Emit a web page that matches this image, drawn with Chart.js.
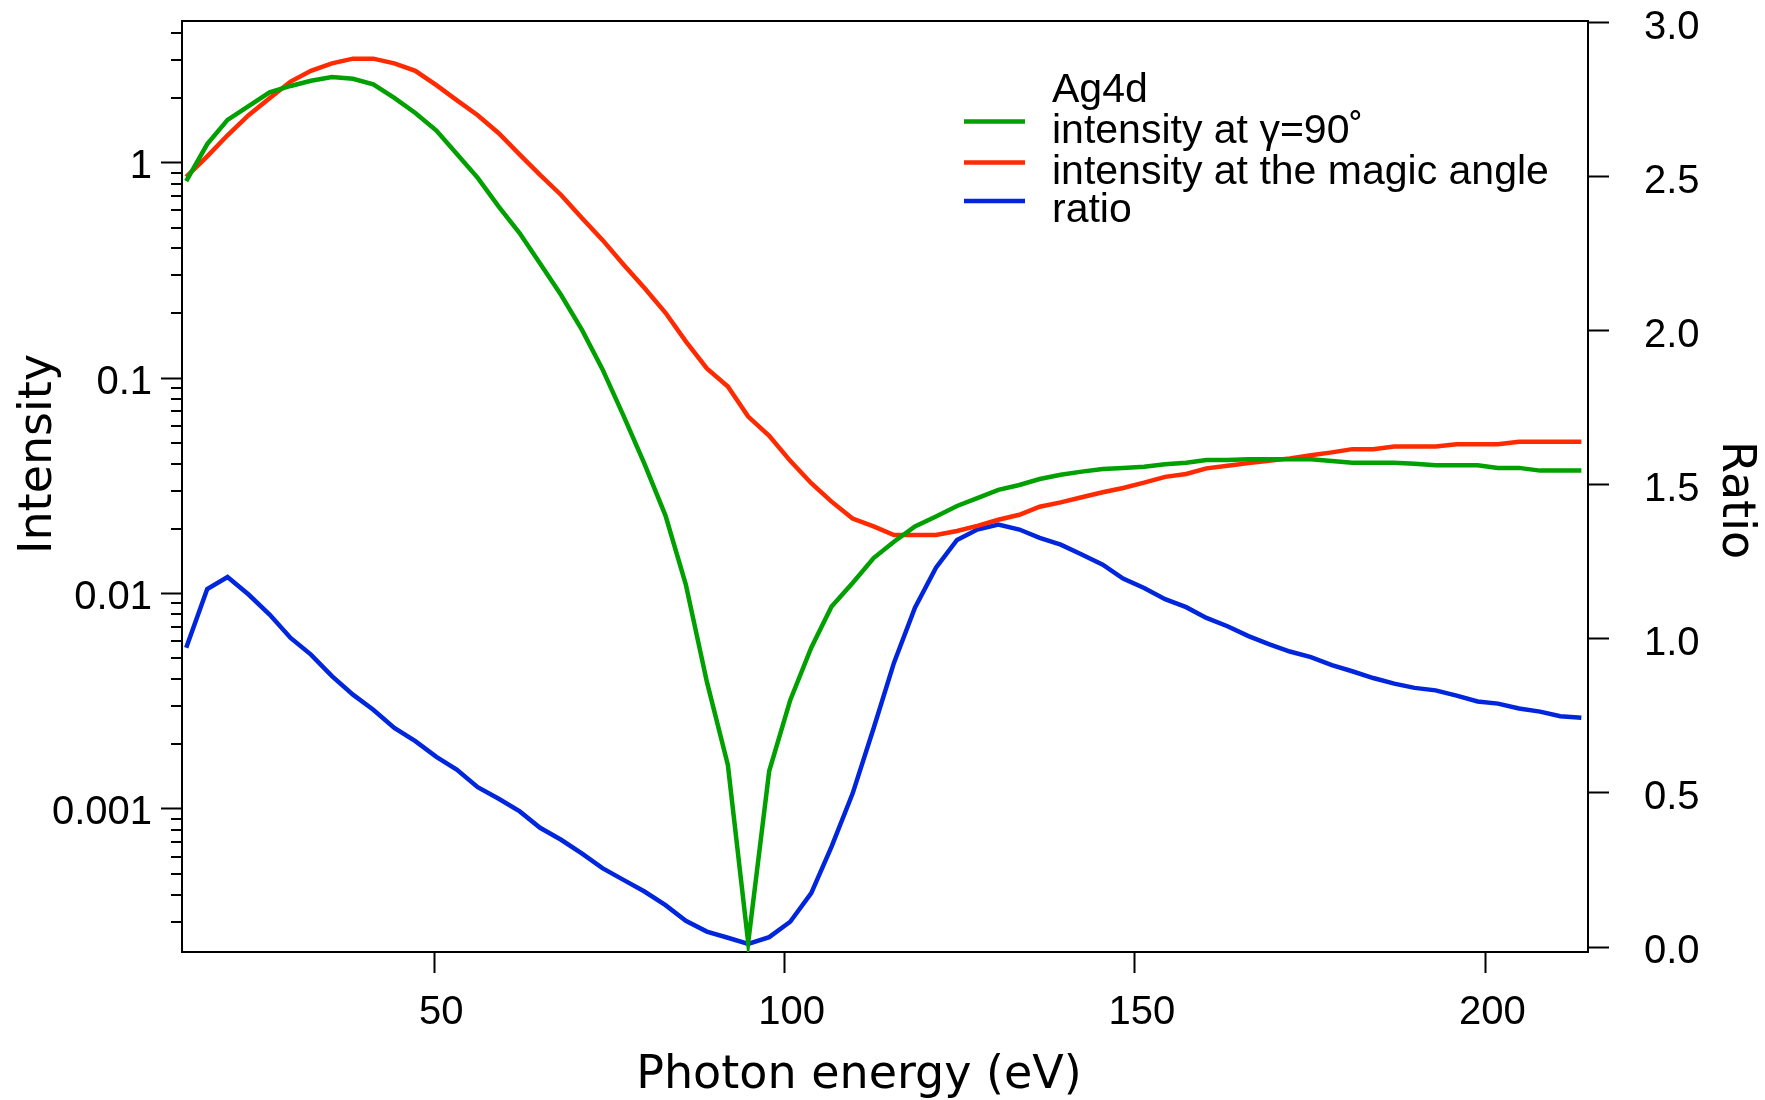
<!DOCTYPE html>
<html>
<head>
<meta charset="utf-8">
<script src="https://cdn.jsdelivr.net/npm/chart.js@4.4.1/dist/chart.umd.min.js"></script>
<style>
  html, body { margin: 0; padding: 0; background: #ffffff; }
  #wrap { width: 1765px; height: 1100px; position: relative; }
  canvas { display: block; }
</style>
</head>
<body>
<div id="wrap"><canvas id="c" width="1765" height="1100"></canvas></div>
<script>
// ---------------- data ----------------
const energy = [14.6,17.6,20.5,23.5,26.5,29.5,32.4,35.4,38.4,41.3,44.3,47.3,50.3,53.2,56.2,59.2,62.2,65.1,68.1,71.1,
  74.0,77.0,80.0,83.0,85.9,88.9,91.9,94.8,97.8,100.8,103.8,106.7,109.7,112.7,115.6,118.6,121.6,124.6,127.5,130.5,
  133.5,136.4,139.4,142.4,145.4,148.3,151.3,154.3,157.3,160.2,163.2,166.2,169.1,172.1,175.1,178.1,181.0,184.0,187.0,189.9,
  192.9,195.9,198.9,201.8,204.8,207.8,210.7,213.7];

const intensity90 = [0.82,1.22,1.58,1.83,2.12,2.27,2.40,2.50,2.45,2.31,
  2.00,1.70,1.41,1.10,0.85,0.625,0.47,0.34,0.243,0.167,
  0.11,0.067,0.040,0.023,0.011,0.0039,0.0016,0.00024,0.0015,0.0032,
  0.0056,0.0087,0.0112,0.0146,0.0174,0.0205,0.0228,0.0255,0.0277,0.0303,
  0.0319,0.0340,0.0356,0.0368,0.0378,0.0383,0.0388,0.0398,0.0405,0.0417,
  0.0417,0.0420,0.0420,0.0420,0.0420,0.0412,0.0405,0.0405,0.0405,0.0400,
  0.0394,0.0394,0.0394,0.0383,0.0383,0.0372,0.0372,0.0372];

const intensityMagic = [0.86,1.07,1.34,1.66,1.99,2.38,2.67,2.89,3.04,3.04,
  2.89,2.67,2.29,1.95,1.66,1.37,1.09,0.877,0.708,0.552,
  0.438,0.337,0.262,0.201,0.148,0.111,0.0914,0.0663,0.054,0.0413,
  0.0325,0.0267,0.0223,0.0205,0.0187,0.0187,0.0187,0.0195,0.0206,0.0220,
  0.0232,0.0253,0.0265,0.0280,0.0295,0.0309,0.0327,0.0348,0.0359,0.0381,
  0.0392,0.0403,0.0413,0.0424,0.0438,0.0452,0.0468,0.0468,0.0481,0.0481,
  0.0481,0.0493,0.0493,0.0493,0.0507,0.0507,0.0507,0.0507];

const ratio = [0.971,1.162,1.201,1.144,1.079,1.003,0.949,0.879,0.819,0.770,
  0.711,0.668,0.617,0.576,0.519,0.481,0.440,0.387,0.348,0.303,
  0.256,0.218,0.180,0.136,0.085,0.050,0.030,0.010,0.032,0.082,
  0.175,0.326,0.498,0.71,0.922,1.101,1.231,1.321,1.355,1.371,
  1.355,1.328,1.306,1.274,1.241,1.196,1.165,1.129,1.103,1.068,
  1.041,1.009,0.983,0.959,0.941,0.915,0.895,0.873,0.855,0.841,
  0.833,0.816,0.797,0.790,0.774,0.764,0.749,0.744];

const xTickValues = [50, 100, 150, 200];
const leftTickValues = [0.001, 0.01, 0.1, 1];
const leftTickLabels = ['0.001', '0.01', '0.1', '1'];
const rightTickValues = [0.0, 0.5, 1.0, 1.5, 2.0, 2.5, 3.0];
const seriesLabels = ['intensity at \u03B3=90\u02DA', 'intensity at the magic angle', 'ratio'];
const legendTitle = 'Ag4d';
const xTitle = 'Photon energy (eV)';
const yTitle = 'Intensity';
const y1Title = 'Ratio';

// ---------------- helpers ----------------
const toPoints = (ys) => energy.map((e, i) => ({ x: e, y: ys[i] }));
const TICK_FONT = { family: 'Liberation Sans', size: 40 };

const framePlugin = {
  id: 'frameAndMinor',
  afterDraw(chart) {
    const ctx = chart.ctx;
    const s = chart.scales.y;
    const a = chart.chartArea;
    ctx.save();
    ctx.strokeStyle = '#000';
    ctx.lineWidth = 2;
    for (let k = -5; k <= 1; k++) {
      for (let m = 2; m <= 9; m++) {
        const v = m * Math.pow(10, k);
        if (v < s.min || v > s.max) continue;
        const y = Math.round(s.getPixelForValue(v));
        ctx.beginPath();
        ctx.moveTo(s.right - 11, y);
        ctx.lineTo(s.right, y);
        ctx.stroke();
      }
    }
    ctx.beginPath();
    ctx.moveTo(a.left - 1, a.top);
    ctx.lineTo(a.right + 1, a.top);
    ctx.stroke();
    ctx.restore();
  }
};

const legendPlugin = {
  id: 'insideLegend',
  afterDraw(chart, args, o) {
    const ctx = chart.ctx;
    ctx.save();
    ctx.font = o.font;
    ctx.fillStyle = '#000';
    ctx.textAlign = 'left';
    ctx.textBaseline = 'alphabetic';
    ctx.fillText(o.title, o.textX, o.baselines[0]);
    chart.data.datasets.forEach((ds, i) => {
      const b = o.baselines[i + 1];
      ctx.strokeStyle = ds.borderColor;
      ctx.lineWidth = ds.borderWidth;
      ctx.beginPath();
      ctx.moveTo(o.lineX0, b - o.lineRaise);
      ctx.lineTo(o.lineX1, b - o.lineRaise);
      ctx.stroke();
      ctx.fillText(ds.label, o.textX, b);
    });
    ctx.restore();
  }
};

const titlesPlugin = {
  id: 'axisTitles',
  afterDraw(chart, args, o) {
    const ctx = chart.ctx;
    const sc = chart.options.scales;
    ctx.save();
    ctx.fillStyle = '#000';
    ctx.font = o.font;
    ctx.textAlign = 'center';
    ctx.textBaseline = 'alphabetic';
    ctx.fillText(sc.x.title.text, o.x[0], o.x[1]);
    ctx.save();
    ctx.translate(o.y[0], o.y[1]);
    ctx.rotate(-Math.PI / 2);
    ctx.fillText(sc.y.title.text, 0, 0);
    ctx.restore();
    ctx.save();
    ctx.translate(o.y1[0], o.y1[1]);
    ctx.rotate(Math.PI / 2);
    ctx.fillText(sc.y1.title.text, 0, 0);
    ctx.restore();
    ctx.restore();
  }
};

const noPad = (s) => { s.paddingTop = 0; s.paddingBottom = 0; s.paddingLeft = 0; s.paddingRight = 0; };
const gridOpts = { display: true, drawOnChartArea: false, drawTicks: true, tickLength: 21, tickWidth: 2, tickColor: '#000' };
const borderOpts = { display: true, color: '#000', width: 2 };

new Chart(document.getElementById('c'), {
  type: 'line',
  data: {
    datasets: [
      { label: seriesLabels[0], data: toPoints(intensity90), yAxisID: 'y', borderColor: '#00a000', borderWidth: 4.5 },
      { label: seriesLabels[1], data: toPoints(intensityMagic), yAxisID: 'y', borderColor: '#ff2a00', borderWidth: 4.5 },
      { label: seriesLabels[2], data: toPoints(ratio), yAxisID: 'y1', borderColor: '#0026dd', borderWidth: 4.5 }
    ]
  },
  options: {
    responsive: false,
    animation: false,
    devicePixelRatio: 1,
    layout: { padding: { top: 21, left: 0, right: 0, bottom: 0 } },
    elements: { point: { radius: 0 }, line: { tension: 0, borderJoinStyle: 'miter', fill: false } },
    plugins: {
      legend: { display: false },
      tooltip: { enabled: false },
      insideLegend: {
        font: '41px "Liberation Sans"',
        title: legendTitle,
        textX: 1052,
        baselines: [101.5, 142.5, 183.5, 222],
        lineX0: 964, lineX1: 1025, lineRaise: 21
      },
      axisTitles: {
        font: '46px "DejaVu Sans"',
        x: [859, 1088],
        y: [51, 454],
        y1: [1723, 500]
      }
    },
    scales: {
      x: {
        type: 'linear', position: 'bottom', min: 14.0, max: 214.65,
        afterBuildTicks: (s) => { s.ticks = xTickValues.map(v => ({ value: v })); },
        afterFit: (s) => { s.height = 148; noPad(s); },
        ticks: { font: TICK_FONT, color: '#000', padding: 16, labelOffset: 7, autoSkip: false, maxRotation: 0,
                 callback: (v) => String(v) },
        grid: gridOpts, border: borderOpts,
        title: { display: false, text: xTitle }
      },
      y: {
        type: 'logarithmic', position: 'left', min: 2.168e-4, max: 4.545,
        afterBuildTicks: (s) => { s.ticks = leftTickValues.map(v => ({ value: v })); },
        afterFit: (s) => { s.width = 182; noPad(s); },
        ticks: { font: TICK_FONT, color: '#000', padding: 9, labelOffset: 4.5, autoSkip: false,
                 callback: (v, i) => leftTickLabels[i] },
        grid: gridOpts, border: borderOpts,
        title: { display: false, text: yTitle }
      },
      y1: {
        type: 'linear', position: 'right', min: -0.0162, max: 3.0055,
        afterBuildTicks: (s) => { s.ticks = rightTickValues.map(v => ({ value: v })); },
        afterFit: (s) => { s.width = 177; noPad(s); },
        ticks: { font: TICK_FONT, color: '#000', padding: 35, labelOffset: 5, autoSkip: false,
                 callback: (v) => Number(v).toFixed(1) },
        grid: gridOpts, border: borderOpts,
        title: { display: false, text: y1Title }
      }
    }
  },
  plugins: [framePlugin, legendPlugin, titlesPlugin]
});
</script>
</body>
</html>
